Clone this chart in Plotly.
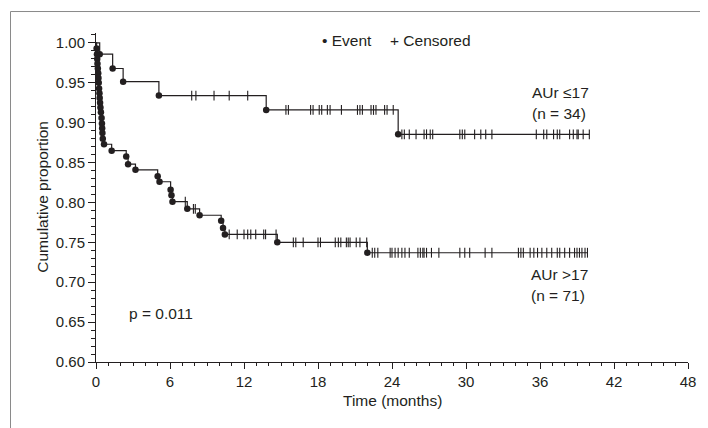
import plotly.graph_objects as go

# ---------------- data ----------------
# AUr <= 17 (n = 34)
low_event_t = [0.3, 1.35, 2.2, 5.1, 13.8, 24.5]
low_event_s = [0.986, 0.968, 0.9515, 0.934, 0.916, 0.8855]
low_cens_t = [7.76, 8.1, 9.57, 10.8, 12.3, 15.4, 15.6, 17.4, 17.6, 18.1, 18.3,
              18.76, 18.98, 19.9, 21.2, 21.4, 21.6, 22.3, 22.5, 22.7, 23.4, 23.6,
              24.1, 24.8, 25.0, 25.4, 25.95, 26.6, 26.8, 27.1, 27.3, 29.5, 29.7,
              29.9, 30.7, 31.2, 31.6, 32.1, 35.7, 36.3, 36.55, 37.1, 37.4, 37.6,
              38.4, 38.7, 39.0, 39.1, 39.5, 40.0]

# AUr > 17 (n = 71)
high_event_t = [0.05, 0.08, 0.10, 0.12, 0.15, 0.18, 0.20, 0.22, 0.25, 0.28,
                0.30, 0.33, 0.36, 0.40, 0.45, 0.48, 0.50, 0.52, 0.55, 0.65,
                1.27, 2.45, 2.6, 3.2, 5.0, 5.15, 6.05, 6.12, 6.2, 7.4, 8.4,
                10.15, 10.3, 10.45, 14.7, 22.0]
high_event_s = [0.993, 0.986, 0.980, 0.974, 0.968, 0.962, 0.956, 0.950, 0.943,
                0.937, 0.931, 0.925, 0.919, 0.913, 0.906, 0.899, 0.893, 0.887,
                0.880, 0.873, 0.865, 0.8575, 0.848, 0.841, 0.833, 0.826, 0.816,
                0.809, 0.801, 0.792, 0.784, 0.777, 0.768, 0.760, 0.750, 0.737]
high_cens_t = [7.24, 7.9, 8.05, 10.8, 11.45, 12.0, 12.3, 12.55, 12.95, 13.6,
               13.75, 14.6, 16.0, 16.2, 16.8, 18.0, 18.2, 19.4, 19.65, 19.85,
               20.3, 20.45, 20.6, 21.1, 21.4, 21.95, 22.4, 22.6, 22.85, 23.85,
               24.0, 24.25, 24.5, 24.8, 25.05, 25.4, 26.1, 26.3, 26.5, 26.6, 26.8,
               27.2, 27.8, 29.5, 29.9, 30.3, 31.55, 32.1, 34.25, 34.45, 34.65,
               35.2, 35.5, 35.8, 36.15, 36.55, 36.95, 37.4, 37.6, 38.0, 38.4,
               38.8, 39.0, 39.2, 39.4, 39.65, 39.85]

x_ticks = [0, 6, 12, 18, 24, 30, 36, 42, 48]
y_ticks = [0.60, 0.65, 0.70, 0.75, 0.80, 0.85, 0.90, 0.95, 1.00]

INK = "#231f20"
FONT = "Liberation Sans, Arial, sans-serif"


def surv_at(t, ev_t, ev_s):
    s = 1.0
    for et, es in zip(ev_t, ev_s):
        if et <= t:
            s = es
    return s


def add_curve(fig, ev_t, ev_s, cens_t):
    end_t = max(cens_t)
    xs = [0] + ev_t + [end_t]
    ys = [1.0] + ev_s + [ev_s[-1]]
    fig.add_trace(go.Scatter(x=xs, y=ys, mode="lines", line_shape="hv",
                             line=dict(color=INK, width=1.2),
                             showlegend=False, hoverinfo="skip", cliponaxis=False))
    fig.add_trace(go.Scatter(x=cens_t, y=[surv_at(t, ev_t, ev_s) for t in cens_t],
                             mode="markers",
                             marker=dict(symbol="line-ns", size=7,
                                         line=dict(width=1.1, color=INK)),
                             showlegend=False, cliponaxis=False))
    fig.add_trace(go.Scatter(x=ev_t, y=ev_s, mode="markers",
                             marker=dict(symbol="circle", size=6.5, color=INK),
                             showlegend=False, cliponaxis=False))


fig = go.Figure()
add_curve(fig, low_event_t, low_event_s, low_cens_t)
add_curve(fig, high_event_t, high_event_s, high_cens_t)

ann_font = dict(family=FONT, size=15.5, color=INK)
annotations = [
    dict(x=35.2, y=0.9377, text="AUr \u226417", xanchor="left", yanchor="middle"),
    dict(x=35.2, y=0.911, text="(n = 34)", xanchor="left", yanchor="middle"),
    dict(x=35.1, y=0.7093, text="AUr >17", xanchor="left", yanchor="middle"),
    dict(x=35.1, y=0.684, text="(n = 71)", xanchor="left", yanchor="middle"),
    dict(x=2.5, y=0.6604, text="p = 0.011", xanchor="left", yanchor="middle"),
    dict(x=18.15, y=1.0025, text="\u2022 Event", xanchor="left", yanchor="middle"),
    dict(x=23.7, y=1.0025, text="+ Censored", xanchor="left", yanchor="middle"),
]
for a in annotations:
    a.update(xref="x", yref="y", showarrow=False, font=ann_font)

# axis titles placed in paper coordinates
annotations += [
    dict(x=0.5008, y=-0.1176, xref="paper", yref="paper", text="Time (months)",
         showarrow=False, xanchor="center", yanchor="middle", font=ann_font),
    dict(x=-0.0917, y=0.5015, xref="paper", yref="paper", text="Cumulative proportion",
         showarrow=False, xanchor="center", yanchor="middle", textangle=-90, font=ann_font),
]

fig.update_layout(
    width=700, height=420,
    margin=dict(l=88, r=20, t=25, b=66),
    paper_bgcolor="white", plot_bgcolor="white",
    font=dict(family=FONT, size=15, color=INK),
    annotations=annotations,
    shapes=[
        dict(type="line", xref="paper", yref="paper", x0=-0.1444, x1=-0.1444,
             y0=-0.3, y1=1.0653, line=dict(color="#8a8a8a", width=1)),
        dict(type="line", xref="paper", yref="paper", x0=-0.1444, x1=1.2,
             y0=1.0653, y1=1.0653, line=dict(color="#8a8a8a", width=1)),
    ],
)

fig.update_xaxes(
    range=[0, 48], tickmode="array", tickvals=x_ticks,
    ticks="outside", ticklen=6, tickwidth=1, tickcolor=INK,
    showline=True, linecolor=INK, linewidth=1,
    showgrid=False, zeroline=False, automargin=False,
    minor=dict(dtick=1, tick0=0, ticks="outside", ticklen=3, tickcolor=INK, showgrid=False),
    tickfont=dict(size=15),
)
fig.update_yaxes(
    range=[0.6, 1.0125], tickmode="array", tickvals=y_ticks,
    ticktext=[f"{v:.2f}" for v in y_ticks],
    ticks="outside", ticklen=7, tickwidth=1, tickcolor=INK,
    showline=True, linecolor=INK, linewidth=1,
    showgrid=False, zeroline=False, automargin=False,
    minor=dict(dtick=0.01, tick0=0.6, ticks="outside", ticklen=4, tickcolor=INK, showgrid=False),
    tickfont=dict(size=15),
)

fig.write_html("out.html")
